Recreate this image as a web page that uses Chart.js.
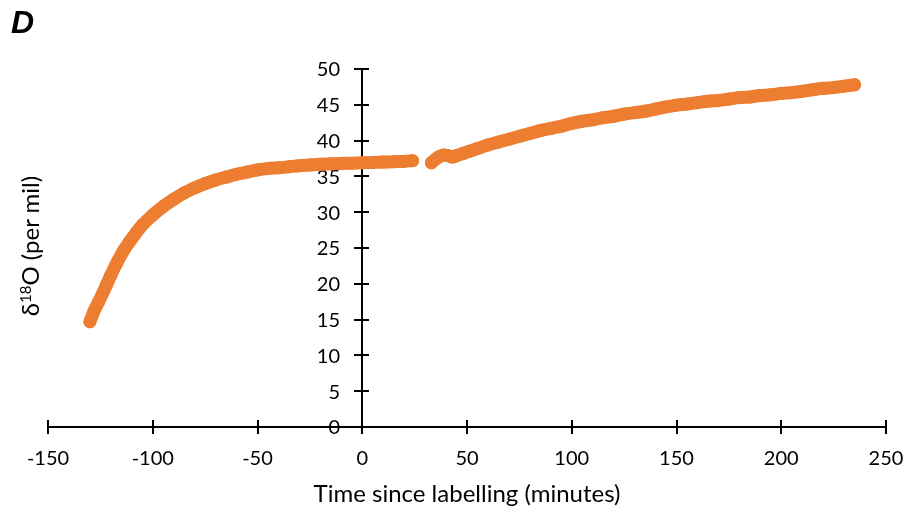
<!DOCTYPE html>
<html>
<head>
<meta charset="utf-8">
<script src="https://cdn.jsdelivr.net/npm/chart.js@4.4.1/dist/chart.umd.min.js"></script>
<style>
  html, body { margin: 0; padding: 0; background: #fff; }
  #wrap { position: relative; width: 912px; height: 515px; }
  #panel { position: absolute; left: 11px; top: 4px; font: italic bold 32px "Liberation Sans", Arial, sans-serif; color: #000; }
  #ytitle { position: absolute; left: 30px; top: 246px; transform: translate(-50%, -50%) rotate(-90deg);
            white-space: nowrap; font: 24px Lato, "Liberation Sans", sans-serif; color: #000; line-height: 1; }
  #ytitle sup { font-size: 15px; vertical-align: 8px; line-height: 0; }
</style>
</head>
<body>
<div id="wrap">
  <canvas id="c" width="912" height="515"></canvas>
  <div id="panel">D</div>
  <div id="ytitle">δ<sup>18</sup>O (per mil)</div>
</div>
<script>
// Tick values
const xTickValues = [-150, -100, -50, 0, 50, 100, 150, 200, 250];
const yTickValues = [0, 5, 10, 15, 20, 25, 30, 35, 40, 45, 50];

// Before the gap (minutes, per mil)
const time1 = [-130, -128, -126, -124, -122, -120, -117, -114, -111, -108, -105, -100, -95, -90, -85, -80,
               -75, -70, -65, -60, -55, -50, -45, -40, -35, -30, -25, -20, -15, -10, -5, 0, 5, 10, 15, 20, 24];
const d18O1 = [14.7, 16.2, 17.4, 18.6, 19.9, 21.2, 23.0, 24.6, 25.9, 27.1, 28.2, 29.6, 30.8, 31.8, 32.7, 33.4,
               34.0, 34.5, 34.9, 35.3, 35.6, 35.9, 36.1, 36.2, 36.35, 36.5, 36.6, 36.7, 36.75, 36.8, 36.85, 36.9, 36.95, 37.0, 37.05, 37.1, 37.2];

// After the gap
const time2 = [33, 35, 37, 39, 41, 43, 45, 48, 51, 55, 60, 65, 70, 75, 80, 85, 90, 95, 100, 105, 110, 115,
               120, 125, 130, 135, 140, 145, 150, 155, 160, 165, 170, 175, 180, 185, 190, 195, 200, 205,
               210, 215, 220, 225, 230, 235];
const d18O2 = [36.9, 37.4, 37.8, 38.0, 37.9, 37.7, 37.9, 38.2, 38.5, 38.9, 39.4, 39.8, 40.2, 40.6, 41.0, 41.4,
               41.7, 42.0, 42.4, 42.7, 42.9, 43.2, 43.4, 43.7, 43.9, 44.1, 44.4, 44.7, 44.95, 45.1, 45.3, 45.5,
               45.6, 45.8, 46.0, 46.1, 46.3, 46.4, 46.6, 46.7, 46.9, 47.1, 47.3, 47.4, 47.6, 47.8];

const ORANGE = '#ED7D31';
const FONT_FAMILY = 'Lato, "Liberation Sans", sans-serif';
const toPts = (xs, ys) => xs.map((v, i) => ({ x: v, y: ys[i] }));

const seriesStyle = {
  showLine: true,
  borderColor: ORANGE,
  backgroundColor: ORANGE,
  borderWidth: 13,
  borderCapStyle: 'round',
  borderJoinStyle: 'round',
  cubicInterpolationMode: 'monotone',
  pointRadius: 6.5,
  pointHoverRadius: 6.5,
  pointBorderWidth: 0
};

// Inner halves of the crossing tick marks and the y tick labels beside the y axis at x = 0
const axisExtras = {
  id: 'axisExtras',
  beforeDatasetsDraw(chart) {
    const { ctx, scales: { x, y } } = chart;
    const x0 = Math.round(x.getPixelForValue(0));
    const y0 = Math.round(y.getPixelForValue(0));
    ctx.save();
    ctx.strokeStyle = '#000';
    ctx.lineWidth = 2;
    ctx.beginPath();
    x.ticks.forEach(t => {
      const px = Math.round(x.getPixelForValue(t.value));
      ctx.moveTo(px, y0); ctx.lineTo(px, y0 - 7);
    });
    y.ticks.forEach(t => {
      const py = Math.round(y.getPixelForValue(t.value));
      ctx.moveTo(x0, py); ctx.lineTo(x0 + 7, py);
    });
    ctx.stroke();
    ctx.fillStyle = '#000';
    ctx.font = '20px ' + FONT_FAMILY;
    ctx.textAlign = 'right';
    ctx.textBaseline = 'middle';
    y.ticks.forEach(t => {
      ctx.fillText(String(t.value), x0 - 22, y.getPixelForValue(t.value) + 1);
    });
    ctx.restore();
  }
};

new Chart(document.getElementById('c'), {
  type: 'scatter',
  data: {
    datasets: [
      Object.assign({ label: 'before', data: toPts(time1, d18O1) }, seriesStyle),
      Object.assign({ label: 'after', data: toPts(time2, d18O2) }, seriesStyle)
    ]
  },
  options: {
    responsive: false,
    devicePixelRatio: 1,
    animation: false,
    layout: { padding: { left: 48, right: 26, top: 69, bottom: 0 } },
    plugins: { legend: { display: false }, tooltip: { enabled: false }, title: { display: false } },
    scales: {
      x: {
        type: 'linear',
        position: 'bottom',
        min: -150, max: 250,
        afterBuildTicks: s => { s.ticks = xTickValues.map(v => ({ value: v })); },
        afterFit: s => { s.height = 88; s.paddingLeft = 0; s.paddingRight = 0; },
        ticks: { color: '#000', font: { family: FONT_FAMILY, size: 20 }, padding: 13, maxRotation: 0 },
        grid: { drawOnChartArea: false, drawTicks: true, tickLength: 7, color: '#000', lineWidth: 2 },
        border: { display: true, color: '#000', width: 2 },
        title: { display: true, text: 'Time since labelling (minutes)', color: '#000',
                 font: { family: FONT_FAMILY, size: 24 }, padding: { top: 0, bottom: 6 } }
      },
      y: {
        type: 'linear',
        position: { x: 0 },
        min: 0, max: 50,
        afterBuildTicks: s => { s.ticks = yTickValues.map(v => ({ value: v })); },
        afterFit: s => { s.width = 0; s.paddingTop = 0; s.paddingBottom = 0; },
        ticks: { display: false },
        grid: { drawOnChartArea: false, drawTicks: true, tickLength: 7, color: '#000', lineWidth: 2 },
        border: { display: true, color: '#000', width: 2 }
      }
    }
  },
  plugins: [axisExtras]
});
</script>
</body>
</html>
